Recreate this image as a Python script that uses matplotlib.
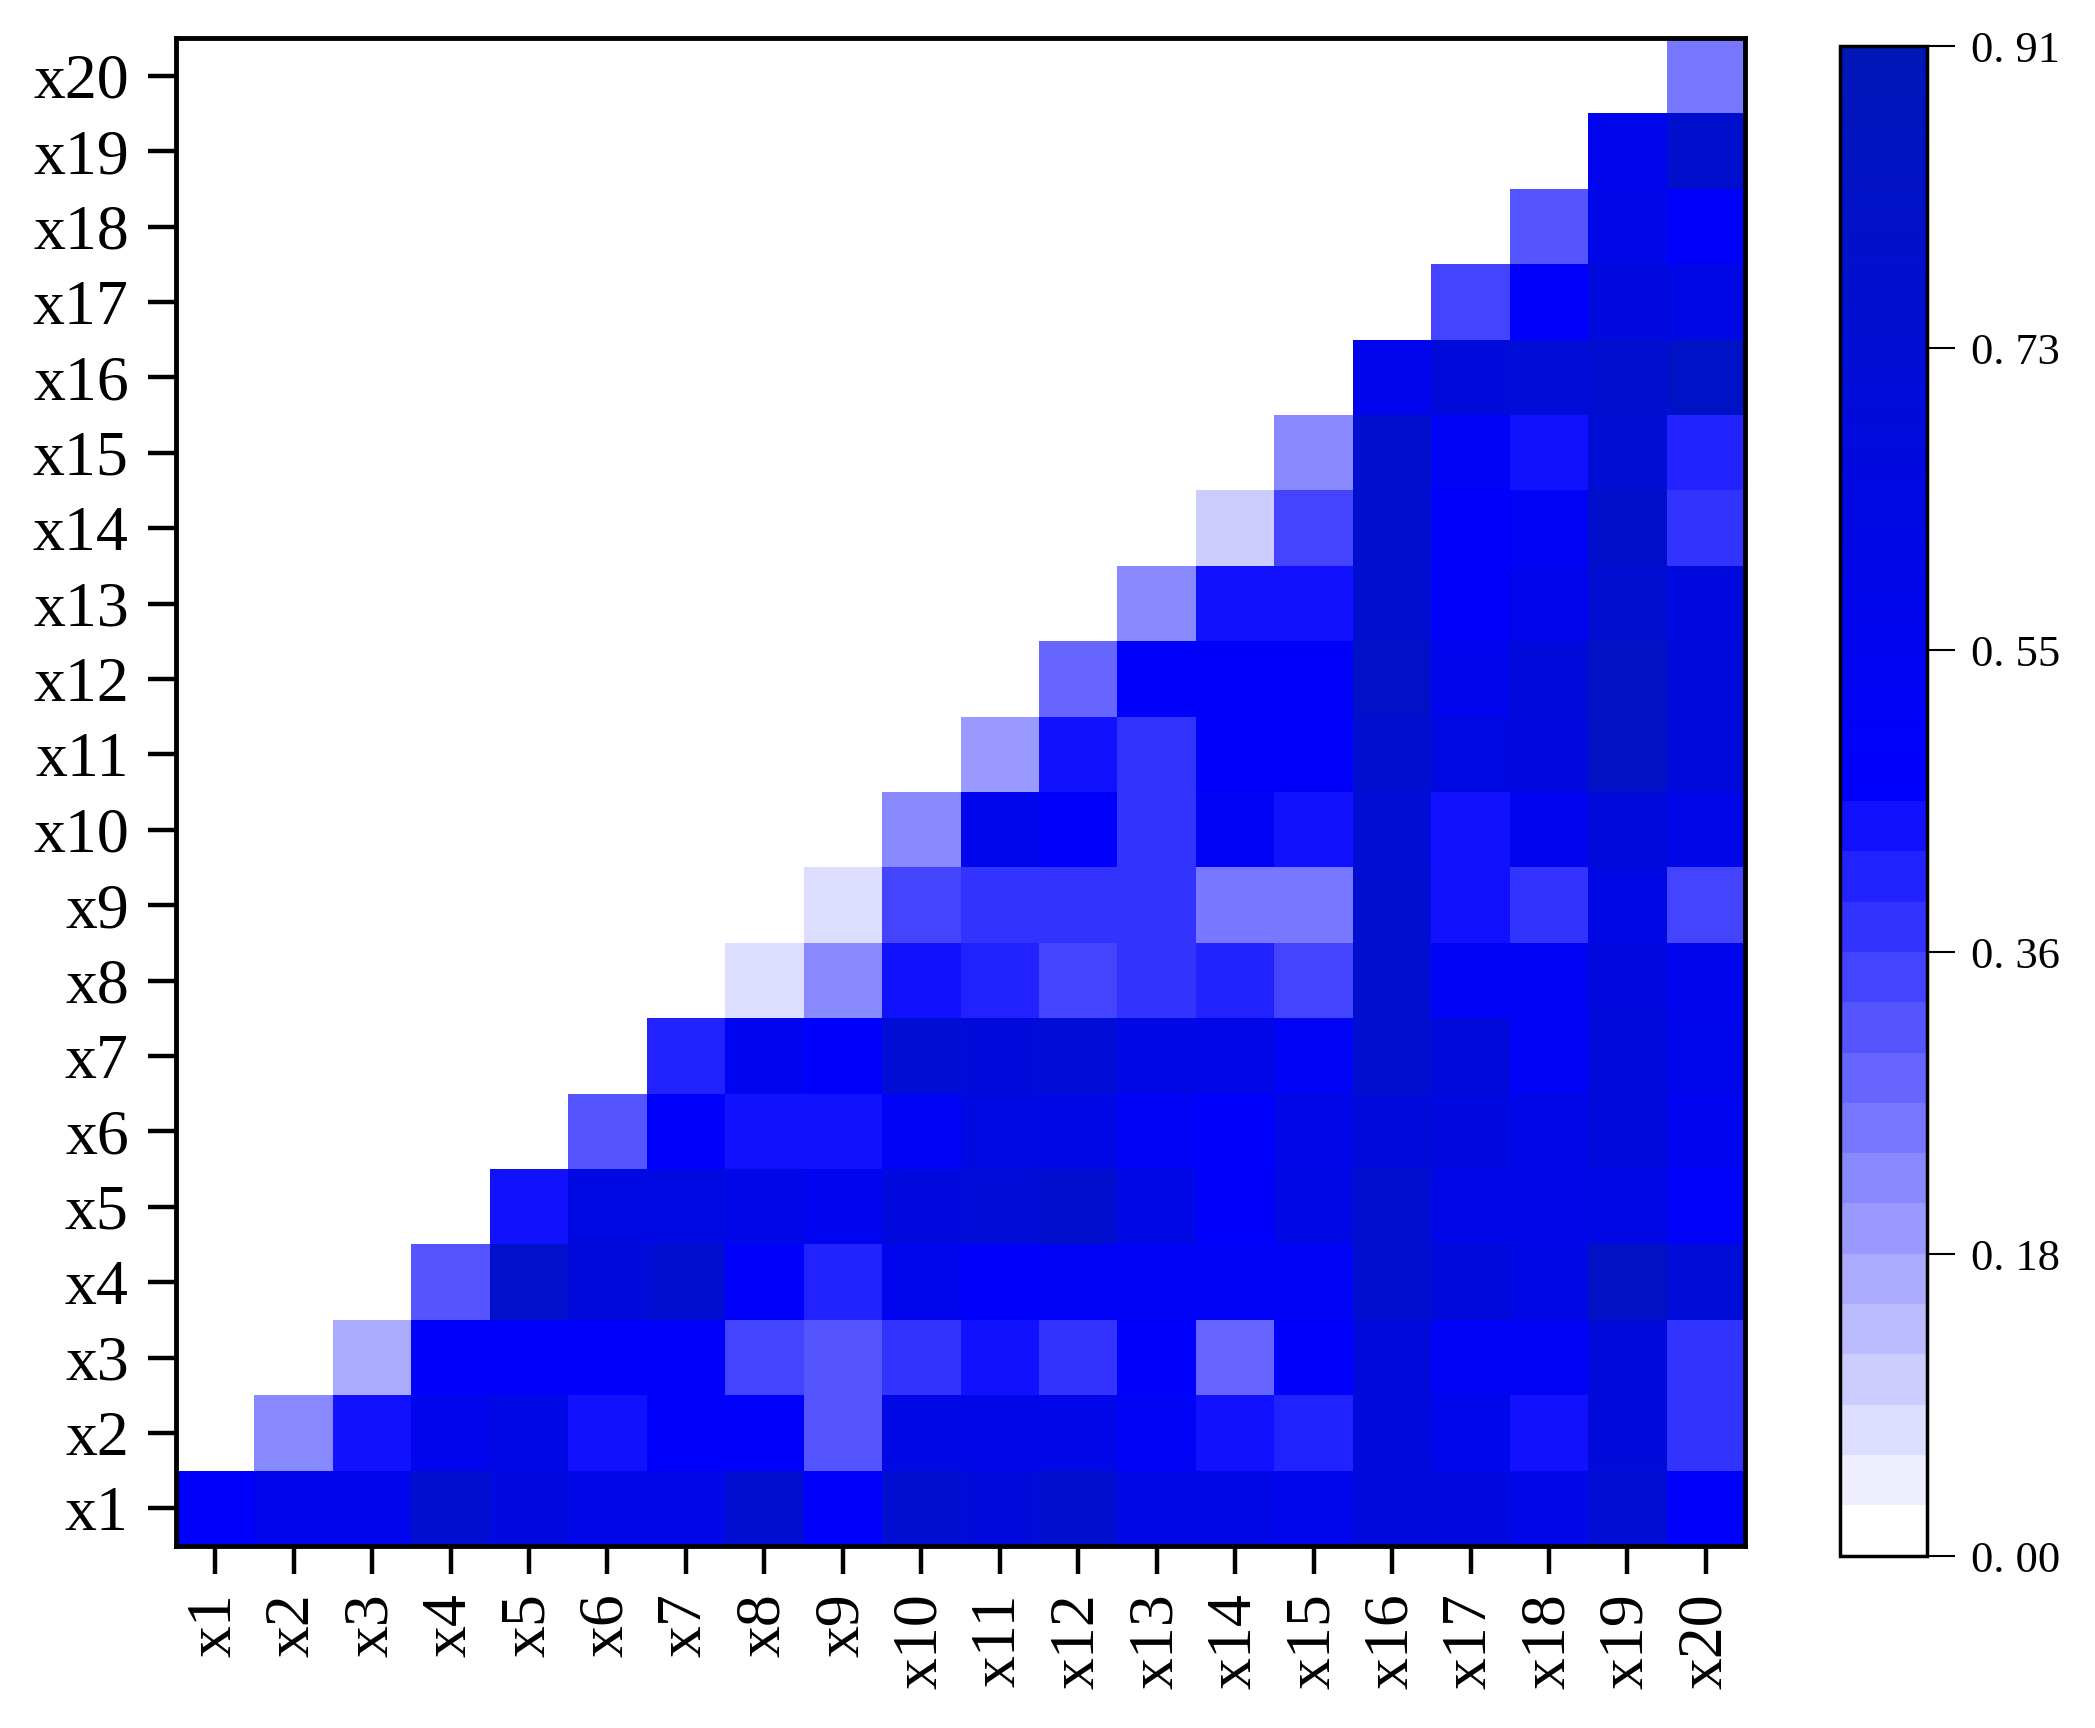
import numpy as np
import matplotlib
matplotlib.use("Agg")
import matplotlib.pyplot as plt
from matplotlib.colors import ListedColormap

# ---------------- data (upper triangle, row j lists values for columns j..20) ----------------
labels = [f"x{i}" for i in range(1, 21)]
row_x1 = [0.47, 0.56, 0.56, 0.76, 0.66, 0.60, 0.60, 0.74, 0.47, 0.74, 0.68, 0.77, 0.62, 0.62, 0.58, 0.68, 0.66, 0.60, 0.72, 0.47]
row_x2 = [0.228, 0.44, 0.56, 0.61, 0.44, 0.47, 0.47, 0.318, 0.61, 0.60, 0.60, 0.52, 0.44, 0.41, 0.68, 0.58, 0.44, 0.68, 0.379]
row_x3 = [0.167, 0.47, 0.47, 0.47, 0.48, 0.349, 0.318, 0.379, 0.44, 0.379, 0.47, 0.288, 0.47, 0.68, 0.52, 0.52, 0.68, 0.379]
row_x4 = [0.318, 0.78, 0.68, 0.74, 0.47, 0.41, 0.57, 0.47, 0.51, 0.51, 0.51, 0.51, 0.76, 0.68, 0.62, 0.83, 0.70]
row_x5 = [0.44, 0.64, 0.64, 0.60, 0.54, 0.66, 0.70, 0.77, 0.62, 0.47, 0.62, 0.76, 0.60, 0.60, 0.62, 0.49]
row_x6 = [0.318, 0.47, 0.44, 0.44, 0.51, 0.64, 0.62, 0.51, 0.47, 0.60, 0.68, 0.65, 0.60, 0.68, 0.54]
row_x7 = [0.41, 0.54, 0.47, 0.72, 0.68, 0.70, 0.62, 0.60, 0.51, 0.76, 0.68, 0.52, 0.68, 0.58]
row_x8 = [0.076, 0.228, 0.44, 0.41, 0.349, 0.379, 0.41, 0.349, 0.76, 0.52, 0.52, 0.66, 0.56]
row_x9 = [0.076, 0.349, 0.379, 0.379, 0.379, 0.258, 0.258, 0.74, 0.44, 0.379, 0.62, 0.349]
row_x10 = [0.228, 0.58, 0.47, 0.379, 0.52, 0.44, 0.72, 0.44, 0.54, 0.68, 0.60]
row_x11 = [0.197, 0.44, 0.379, 0.48, 0.48, 0.76, 0.64, 0.66, 0.83, 0.68]
row_x12 = [0.288, 0.47, 0.48, 0.48, 0.81, 0.56, 0.68, 0.83, 0.68]
row_x13 = [0.228, 0.44, 0.44, 0.76, 0.48, 0.56, 0.74, 0.66]
row_x14 = [0.106, 0.349, 0.77, 0.47, 0.51, 0.79, 0.379]
row_x15 = [0.228, 0.77, 0.52, 0.44, 0.72, 0.41]
row_x16 = [0.56, 0.68, 0.70, 0.74, 0.82]
row_x17 = [0.349, 0.47, 0.66, 0.62]
row_x18 = [0.318, 0.60, 0.47]
row_x19 = [0.56, 0.77]
row_x20 = [0.258]
rows = [row_x1, row_x2, row_x3, row_x4, row_x5, row_x6, row_x7, row_x8, row_x9, row_x10,
        row_x11, row_x12, row_x13, row_x14, row_x15, row_x16, row_x17, row_x18, row_x19, row_x20]
vmin, vmax = 0.0, 0.91
cbar_ticks = [0.00, 0.182, 0.364, 0.546, 0.728, 0.91]
cbar_labels = ["0. 00", "0. 18", "0. 36", "0. 55", "0. 73", "0. 91"]

n = len(labels)
M = np.full((n, n), np.nan)
for j, r in enumerate(rows):
    for k, v in enumerate(r):
        M[j, j + k] = v
Mm = np.ma.masked_invalid(M)

# ---------------- colormap: 15 stepped light levels, then continuous blue -> dark blue ----------------
N = 910
cols = []
half = 0.5
for t in np.linspace(0, 1, N):
    if t < half:
        kk = min(int(t / (half / 15)), 14)
        c = (255 - 17 * kk) / 255.0
        cols.append((c, c, 1.0))
    else:
        f = (t - half) / half
        cols.append((0.0, 22 * f / 255.0, (255 - 72 * f) / 255.0))
cmap = ListedColormap(cols)
cmap.set_bad("white")

# ---------------- figure ----------------
plt.rcParams['font.family'] = ['Liberation Serif', 'DejaVu Serif']
fig = plt.figure(figsize=(20.95, 17.28), dpi=100)
ax = fig.add_axes([0.084, 0.1053, 0.749, 0.8727])

x_edges = np.arange(0.5, n + 1, 1.0)
mesh = ax.pcolormesh(x_edges, x_edges, Mm, cmap=cmap, vmin=vmin, vmax=vmax)
ax.set_xlim(0.5, n + 0.5)
ax.set_ylim(0.5, n + 0.5)
ax.set_xticks(np.arange(1, n + 1))
ax.set_yticks(np.arange(1, n + 1))
ax.set_xticklabels(labels, rotation=90, fontsize=46)
ax.set_yticklabels(labels, fontsize=46)
ax.tick_params(axis='both', direction='out', length=20, width=3.2, color='black')
ax.tick_params(axis='x', pad=14)
ax.tick_params(axis='y', pad=14)
for s in ax.spines.values():
    s.set_linewidth(3.5)
    s.set_color('black')

cax = fig.add_axes([0.8783, 0.0995, 0.0415, 0.8738])
cb = fig.colorbar(mesh, cax=cax, ticks=cbar_ticks)
cb.ax.set_yticklabels(cbar_labels, fontsize=32)
cb.ax.tick_params(length=20, width=1.5, pad=12, color='black')
cb.outline.set_linewidth(2.5)
cb.outline.set_edgecolor('black')

fig.savefig("out.png", dpi=100)
